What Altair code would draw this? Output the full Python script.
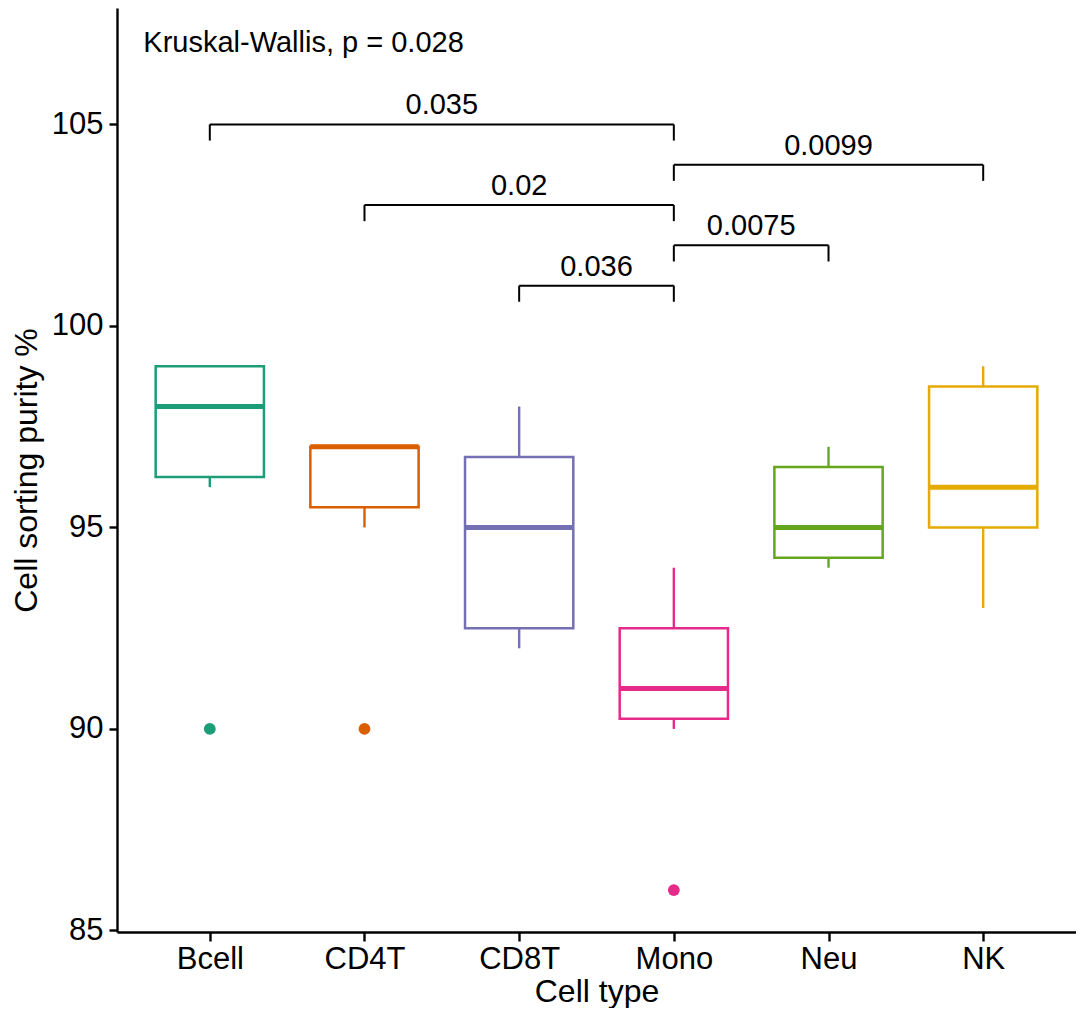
import altair as alt
import pandas as pd

# ---- data ----
categories = ["Bcell", "CD4T", "CD8T", "Mono", "Neu", "NK"]
colors = ["#1B9E77", "#D95F02", "#7570B3", "#E7298A", "#66A61E", "#E6AB02"]
whisker_low = [96, 95, 92, 90, 94, 93]
q1 = [96.25, 95.5, 92.5, 90.25, 94.25, 95]
median = [98, 97, 95, 91, 95, 96]
q3 = [99, 97, 96.75, 92.5, 96.5, 98.5]
whisker_high = [99, 97, 98, 94, 97, 99]

outlier_cat = ["Bcell", "CD4T", "Mono"]
outlier_val = [90, 90, 86]

bracket_from = ["Bcell", "Mono", "CD4T", "Mono", "CD8T"]
bracket_to = ["Mono", "NK", "Mono", "Neu", "Mono"]
bracket_y = [105, 104, 103, 102, 101]
bracket_label = ["0.035", "0.0099", "0.02", "0.0075", "0.036"]

kw_label = ["Kruskal-Wallis, p = 0.028"]
kw_x = [-0.43]
kw_y = [106.8]

y_ticks = [85, 90, 95, 100, 105]

# ---- styling constants ----
HALF_W = 0.35
TIP = 0.4
FONT = "Liberation Sans"

idx = {c: i for i, c in enumerate(categories)}

box_df = pd.DataFrame({
    "cat": categories,
    "idx": [idx[c] for c in categories],
    "lo": whisker_low, "q1": q1, "med": median, "q3": q3, "hi": whisker_high,
})
box_df["x0"] = box_df["idx"] - HALF_W
box_df["x1"] = box_df["idx"] + HALF_W

out_df = pd.DataFrame({"cat": outlier_cat, "idx": [idx[c] for c in outlier_cat], "val": outlier_val})

br_df = pd.DataFrame({
    "a": [idx[c] for c in bracket_from],
    "b": [idx[c] for c in bracket_to],
    "y": bracket_y,
    "label": bracket_label,
})
br_df["mid"] = (br_df["a"] + br_df["b"]) / 2
br_df["ytip"] = br_df["y"] - TIP

tip_df = pd.concat([
    br_df[["a", "y", "ytip"]].rename(columns={"a": "x"}),
    br_df[["b", "y", "ytip"]].rename(columns={"b": "x"}),
], ignore_index=True)

kw_df = pd.DataFrame({"label": kw_label, "x": kw_x, "y": kw_y})

label_expr = "[" + ",".join("'%s'" % c for c in categories) + "][datum.value]"

xscale = alt.Scale(domain=[-0.6, 5.6], nice=False, zero=False)
yscale = alt.Scale(domain=[84.96, 107.89], nice=False, zero=False)
xaxis = alt.Axis(values=list(range(len(categories))), labelExpr=label_expr,
                 title="Cell type", tickSize=9, labelPadding=3, titlePadding=2)
yaxis = alt.Axis(values=y_ticks, title="Cell sorting purity %", tickSize=8,
                 labelPadding=6, titlePadding=8)
color = alt.Color("cat:N", scale=alt.Scale(domain=categories, range=colors), legend=None)

whiskers = alt.Chart(box_df).mark_rule(strokeWidth=2.4).encode(
    x=alt.X("idx:Q", scale=xscale, axis=xaxis, title="Cell type"),
    y=alt.Y("lo:Q", scale=yscale, axis=yaxis, title="Cell sorting purity %"),
    y2="hi:Q",
    color=color,
)

boxes = alt.Chart(box_df).mark_rect(fill="white", strokeWidth=2.5).encode(
    x=alt.X("x0:Q", scale=xscale, axis=xaxis, title="Cell type"),
    x2="x1:Q",
    y=alt.Y("q1:Q", scale=yscale, axis=yaxis, title="Cell sorting purity %"),
    y2="q3:Q",
    stroke=alt.Stroke("cat:N", scale=alt.Scale(domain=categories, range=colors), legend=None),
)

medians = alt.Chart(box_df).mark_rule(strokeWidth=5).encode(
    x=alt.X("x0:Q", scale=xscale, axis=xaxis, title="Cell type"),
    x2="x1:Q",
    y=alt.Y("med:Q", scale=yscale, axis=yaxis, title="Cell sorting purity %"),
    color=color,
)

outliers = alt.Chart(out_df).mark_circle(size=140, opacity=1).encode(
    x=alt.X("idx:Q", scale=xscale, axis=xaxis, title="Cell type"),
    y=alt.Y("val:Q", scale=yscale, axis=yaxis, title="Cell sorting purity %"),
    color=color,
)

br_lines = alt.Chart(br_df).mark_rule(color="black", strokeWidth=2).encode(
    x=alt.X("a:Q", scale=xscale, axis=xaxis, title="Cell type"),
    x2="b:Q",
    y=alt.Y("y:Q", scale=yscale, axis=yaxis, title="Cell sorting purity %"),
)

br_tips = alt.Chart(tip_df).mark_rule(color="black", strokeWidth=2).encode(
    x=alt.X("x:Q", scale=xscale, axis=xaxis, title="Cell type"),
    y=alt.Y("y:Q", scale=yscale, axis=yaxis, title="Cell sorting purity %"),
    y2="ytip:Q",
)

br_text = alt.Chart(br_df).mark_text(font=FONT, fontSize=29, color="black",
                                     baseline="alphabetic", dy=-10).encode(
    x=alt.X("mid:Q", scale=xscale, axis=xaxis, title="Cell type"),
    y=alt.Y("y:Q", scale=yscale, axis=yaxis, title="Cell sorting purity %"),
    text="label:N",
)

kw_text = alt.Chart(kw_df).mark_text(font=FONT, fontSize=29, color="black",
                                     align="left", baseline="alphabetic").encode(
    x=alt.X("x:Q", scale=xscale, axis=xaxis, title="Cell type"),
    y=alt.Y("y:Q", scale=yscale, axis=yaxis, title="Cell sorting purity %"),
    text="label:N",
)

chart = alt.layer(
    whiskers, boxes, medians, outliers, br_lines, br_tips, br_text, kw_text
).properties(
    width=959, height=924,
    autosize=alt.AutoSizeParams(type="none"),
    padding={"left": 109, "top": 0, "right": 0, "bottom": 76},
).configure_view(stroke=None).configure_axis(
    grid=False,
    domainColor="black", domainWidth=2.4,
    tickColor="black", tickWidth=2.4,
    labelColor="black", titleColor="black",
    labelFont=FONT, titleFont=FONT,
    labelFontSize=31, titleFontSize=32, titleFontWeight="normal",
)

chart.save("out.html", embed_options={"renderer": "svg", "actions": False})
